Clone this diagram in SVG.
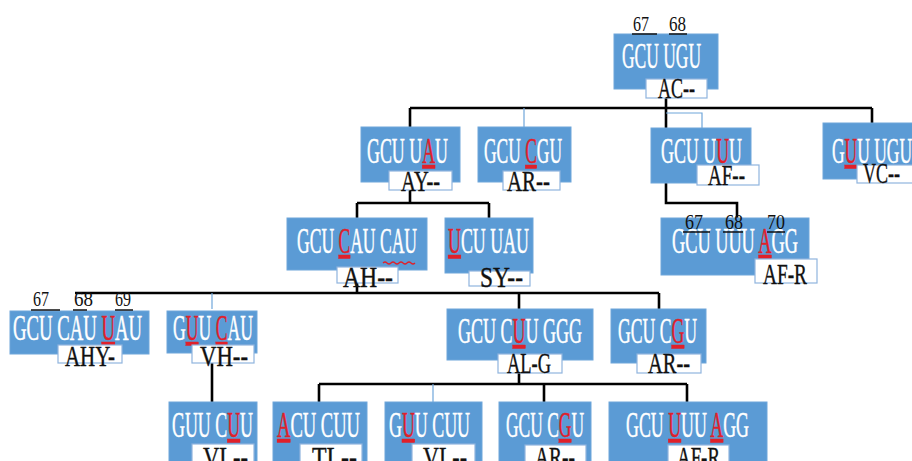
<svg xmlns="http://www.w3.org/2000/svg" width="912" height="461" viewBox="0 0 912 461">
<style>
.box{fill:#5b9bd5;stroke:#6fa6da;stroke-width:1}
.lab{fill:#ffffff;stroke:#8fb4de;stroke-width:1.2}
.t{font-family:"Liberation Serif",serif;font-size:35px;fill:#ffffff;stroke:#ffffff;stroke-width:0.5}
.l{font-family:"Liberation Serif",serif;font-size:30px;fill:#111111;stroke:#111111;stroke-width:0.4}
.n{font-family:"Liberation Serif",serif;font-size:21px;fill:#111111}
.r{fill:#e0202a;stroke:#e0202a;text-decoration:underline}
.c{fill:none;stroke:#000;stroke-width:2.6}
.cb{fill:none;stroke:#6fa6da;stroke-width:1.2}
.u{stroke:#111;stroke-width:1.6}
</style>
<rect width="912" height="461" fill="#ffffff"/>
<g id="connectors">
<path class="c" d="M666,98V108M410,108H872M410,108V127M666,108V128M872,108V123"/>
<path class="cb" d="M524,108V127M666,113H702V128"/>
<path class="c" d="M410,190V203M357,203H489M357,203V218M489,203V218"/>
<path class="c" d="M666,183V203H737V218"/>
<path class="c" d="M357,283V293M75,293H659M519,293V309M659,293V309"/>
<path class="cb" d="M212,293V309"/>
<path class="c" d="M212,363V402"/>
<path class="c" d="M519,373V384M319,384H687M319,384V402M544,384V402M687,384V402"/>
<path class="cb" d="M433,384V402"/>
</g>
<g id="n-root">
<rect class="box" x="614" y="34" width="104" height="55"/>
<text class="t" x="622" y="68" textLength="79" lengthAdjust="spacingAndGlyphs">GCU UGU</text>
<rect class="lab" x="646" y="79" width="61" height="19"/>
<text class="l" x="658" y="98" textLength="37" lengthAdjust="spacingAndGlyphs">AC--</text>
<text class="n" x="633" y="31" textLength="16" lengthAdjust="spacingAndGlyphs">67</text>
<text class="n" x="669" y="31" textLength="17" lengthAdjust="spacingAndGlyphs">68</text>
<path class="u" d="M632,34H657M669,34H687"/>
</g>
<g id="n-ay">
<rect class="box" x="361" y="127" width="99" height="55"/>
<text class="t" x="367" y="163" textLength="81" lengthAdjust="spacingAndGlyphs">GCU U<tspan class="r">A</tspan>U</text>
<rect class="lab" x="389" y="171" width="63" height="19"/>
<text class="l" x="401" y="191" textLength="39" lengthAdjust="spacingAndGlyphs">AY--</text>
</g>
<g id="n-ar1">
<rect class="box" x="478" y="127" width="93" height="55"/>
<text class="t" x="484" y="163" textLength="78" lengthAdjust="spacingAndGlyphs">GCU <tspan class="r">C</tspan>GU</text>
<rect class="lab" x="503" y="171" width="57" height="19"/>
<text class="l" x="507" y="191" textLength="43" lengthAdjust="spacingAndGlyphs">AR--</text>
</g>
<g id="n-af1">
<rect class="box" x="651" y="128" width="100" height="55"/>
<text class="t" x="661" y="163" textLength="81" lengthAdjust="spacingAndGlyphs">GCU U<tspan class="r">U</tspan>U</text>
<rect class="lab" x="697" y="165" width="62" height="20"/>
<text class="l" x="708" y="185" textLength="37" lengthAdjust="spacingAndGlyphs">AF--</text>
</g>
<g id="n-vc">
<rect class="box" x="823" y="123" width="95" height="56"/>
<text class="t" x="832" y="163" textLength="80" lengthAdjust="spacingAndGlyphs">G<tspan class="r">U</tspan>U UGU</text>
<rect class="lab" x="857" y="165" width="60" height="18"/>
<text class="l" x="863" y="183" textLength="37" lengthAdjust="spacingAndGlyphs">VC--</text>
</g>
<g id="n-afr1">
<rect class="box" x="661" y="218" width="148" height="57"/>
<text class="t" x="672" y="253" textLength="126" lengthAdjust="spacingAndGlyphs">GCU UUU <tspan class="r">A</tspan>GG</text>
<rect class="lab" x="755" y="259" width="62" height="24"/>
<text class="l" x="763" y="284" textLength="44" lengthAdjust="spacingAndGlyphs">AF-R</text>
<text class="n" x="685" y="229" textLength="18" lengthAdjust="spacingAndGlyphs">67</text>
<text class="n" x="725" y="229" textLength="18" lengthAdjust="spacingAndGlyphs">68</text>
<text class="n" x="767" y="229" textLength="18" lengthAdjust="spacingAndGlyphs">70</text>
<path class="u" d="M683,232H710M723,232H743M767,232H785"/>
</g>
<g id="n-ah">
<rect class="box" x="287" y="218" width="140" height="52"/>
<text class="t" x="297" y="253" textLength="120" lengthAdjust="spacingAndGlyphs">GCU <tspan class="r">C</tspan>AU CAU</text>
<path d="M383,263q2,-2 4,0t4,0t4,0t4,0t4,0t4,0t4,0t4,0" fill="none" stroke="#e0202a" stroke-width="1.2"/>
<rect class="lab" x="337" y="267" width="61" height="16"/>
<text class="l" x="343" y="287" textLength="50" lengthAdjust="spacingAndGlyphs">AH--</text>
</g>
<g id="n-sy">
<rect class="box" x="445" y="218" width="88" height="55"/>
<text class="t" x="448" y="253" textLength="81" lengthAdjust="spacingAndGlyphs"><tspan class="r">U</tspan>CU UAU</text>
<rect class="lab" x="469" y="271" width="61" height="15"/>
<text class="l" x="480" y="287" textLength="43" lengthAdjust="spacingAndGlyphs">SY--</text>
</g>
<g id="n-ahy">
<rect class="box" x="10" y="311" width="139" height="43"/>
<text class="t" x="13" y="340" textLength="129" lengthAdjust="spacingAndGlyphs">GCU CAU <tspan class="r">U</tspan>AU</text>
<rect class="lab" x="58" y="345" width="64" height="18"/>
<text class="l" x="65" y="366" textLength="50" lengthAdjust="spacingAndGlyphs">AHY-</text>
<text class="n" x="33" y="306" textLength="16" lengthAdjust="spacingAndGlyphs">67</text>
<text class="n" x="74" y="306" textLength="19" lengthAdjust="spacingAndGlyphs">68</text>
<text class="n" x="115" y="306" textLength="16" lengthAdjust="spacingAndGlyphs">69</text>
<path class="u" d="M31,310H60M73,310H87M115,310H133"/>
</g>
<g id="n-vh">
<rect class="box" x="167" y="311" width="90" height="42"/>
<text class="t" x="173" y="340" textLength="80" lengthAdjust="spacingAndGlyphs">G<tspan class="r">U</tspan>U <tspan class="r">C</tspan>AU</text>
<rect class="lab" x="192" y="345" width="62" height="18"/>
<text class="l" x="200" y="366" textLength="48" lengthAdjust="spacingAndGlyphs">VH--</text>
</g>
<g id="n-alg">
<rect class="box" x="447" y="309" width="146" height="51"/>
<text class="t" x="458" y="343" textLength="124" lengthAdjust="spacingAndGlyphs">GCU C<tspan class="r">U</tspan>U GGG</text>
<rect class="lab" x="498" y="354" width="64" height="19"/>
<text class="l" x="507" y="373" textLength="44" lengthAdjust="spacingAndGlyphs">AL-G</text>
</g>
<g id="n-ar2">
<rect class="box" x="611" y="309" width="95" height="54"/>
<text class="t" x="618" y="343" textLength="79" lengthAdjust="spacingAndGlyphs">GCU C<tspan class="r">G</tspan>U</text>
<rect class="lab" x="637" y="354" width="64" height="19"/>
<text class="l" x="648" y="373" textLength="42" lengthAdjust="spacingAndGlyphs">AR--</text>
</g>
<g id="n-vl1">
<rect class="box" x="169" y="402" width="88" height="70"/>
<text class="t" x="172" y="437" textLength="81" lengthAdjust="spacingAndGlyphs">GUU C<tspan class="r">U</tspan>U</text>
<rect class="lab" x="192" y="444" width="62" height="28"/>
<text class="l" x="203" y="467" textLength="45" lengthAdjust="spacingAndGlyphs">VL--</text>
</g>
<g id="n-tl">
<rect class="box" x="273" y="402" width="94" height="70"/>
<text class="t" x="277" y="437" textLength="83" lengthAdjust="spacingAndGlyphs"><tspan class="r">A</tspan>CU CUU</text>
<rect class="lab" x="300" y="444" width="62" height="28"/>
<text class="l" x="312" y="467" textLength="45" lengthAdjust="spacingAndGlyphs">TL--</text>
</g>
<g id="n-vl2">
<rect class="box" x="385" y="402" width="97" height="70"/>
<text class="t" x="389" y="437" textLength="81" lengthAdjust="spacingAndGlyphs">G<tspan class="r">U</tspan>U CUU</text>
<rect class="lab" x="412" y="444" width="63" height="28"/>
<text class="l" x="423" y="467" textLength="44" lengthAdjust="spacingAndGlyphs">VL--</text>
</g>
<g id="n-ar3">
<rect class="box" x="499" y="402" width="92" height="70"/>
<text class="t" x="506" y="437" textLength="78" lengthAdjust="spacingAndGlyphs">GCU C<tspan class="r">G</tspan>U</text>
<rect class="lab" x="525" y="445" width="61" height="27"/>
<text class="l" x="535" y="467" textLength="40" lengthAdjust="spacingAndGlyphs">AR--</text>
</g>
<g id="n-afr2">
<rect class="box" x="609" y="402" width="158" height="70"/>
<text class="t" x="626" y="437" textLength="123" lengthAdjust="spacingAndGlyphs">GCU <tspan class="r">U</tspan>UU <tspan class="r">A</tspan>GG</text>
<rect class="lab" x="668" y="445" width="61" height="27"/>
<text class="l" x="677" y="467" textLength="43" lengthAdjust="spacingAndGlyphs">AF-R</text>
</g>
</svg>
